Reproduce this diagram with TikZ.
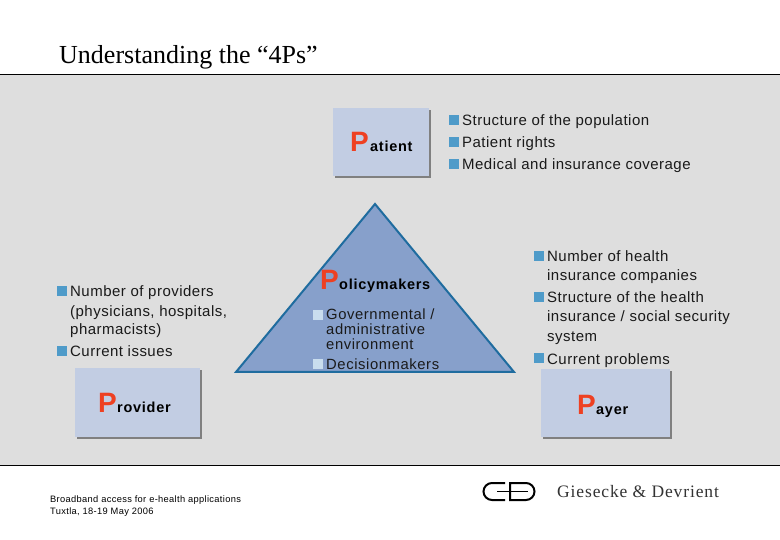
\documentclass[tikz,border=0pt]{standalone}
\usepackage{fontspec}
\setmainfont{Liberation Sans}
\newfontfamily\serifface{Liberation Serif}
\newfontfamily\bodyface[LetterSpace=3.2]{Liberation Sans}
\newfontfamily\triface[LetterSpace=4]{Liberation Sans}
\newfontfamily\labelface[LetterSpace=5,BoldFont={Liberation Sans Bold}]{Liberation Sans}
\newfontfamily\footface[LetterSpace=3.6]{Liberation Sans}
\newfontfamily\logoface[LetterSpace=5]{Liberation Serif}
\definecolor{panel}{HTML}{DEDEDE}
\definecolor{boxfill}{HTML}{C2CDE3}
\definecolor{boxshadow}{HTML}{808080}
\definecolor{redp}{HTML}{EE4022}
\definecolor{bulletblue}{HTML}{4F9BC9}
\definecolor{bulletpale}{HTML}{C9DDEE}
\definecolor{trifill}{HTML}{87A0CB}
\definecolor{triline}{HTML}{1F6C9F}
\definecolor{textgray}{HTML}{1A1A1A}
\tikzset{
  pbox/.style={fill=boxfill,draw=none,minimum height=68pt,inner sep=0pt,anchor=north west},
  pshadow/.style={fill=boxshadow,draw=none},
  plabel/.style={anchor=base west,inner sep=0pt,font=\labelface\fontsize{14.5}{16}\selectfont\bfseries},
  pletter/.style={anchor=base west,inner sep=0pt,text=redp,font=\fontsize{28}{30}\selectfont\bfseries},
  body/.style={anchor=base west,inner sep=0pt,text=textgray,font=\bodyface\fontsize{15}{17}\selectfont},
  bodytri/.style={anchor=base west,inner sep=0pt,text=textgray,font=\triface\fontsize{14.8}{17}\selectfont},
  bul/.style={fill=bulletblue,draw=none,minimum size=10pt,inner sep=0pt,anchor=north west},
  bulpale/.style={bul,fill=bulletpale},
  foot/.style={anchor=base west,inner sep=0pt,font=\footface\fontsize{9.3}{11}\selectfont},
  logoline/.style={black,line width=2pt},
}
\begin{document}
\begin{tikzpicture}[x=1pt,y=-1pt]
\useasboundingbox (0,0) rectangle (780,540);
\fill[white] (0,0) rectangle (780,540);
\fill[panel] (0,74) rectangle (780,465);
\draw[black,line width=1pt] (0,74.5) -- (780,74.5);
\draw[black,line width=1pt] (0,465) -- (780,465);
\node[anchor=base west,inner sep=0pt,font=\serifface\fontsize{26}{28}\selectfont] (title) at (59,64) {Understanding the “4Ps”};
% Patient
\fill[pshadow] (335,110) rectangle (431,178);
\node[pbox,minimum width=96pt] (patient) at (333,108) {};
\node[pletter] (pP) at (350,152) {P};
\node[plabel] (pt) at (370,152) {atient};
\node[bul] (b1) at (449,115) {};
\node[body] (t1) at (462,126) {Structure of the population};
\node[bul] (b2) at (449,137) {};
\node[body] (t2) at (462,148) {Patient rights};
\node[bul] (b3) at (449,159) {};
\node[body] (t3) at (462,170) {Medical and insurance coverage};
% Triangle
\draw[fill=trifill,draw=triline,line width=2pt,line join=miter] (375,204) -- (514,372) -- (236,372) -- cycle;
\node[pletter] (poP) at (320,290) {P};
\node[plabel] (pot) at (339,290) {olicymakers};
\node[bulpale] (b4) at (313,310) {};
\node[bodytri] (t4) at (326,320) {Governmental /};
\node[bodytri] (t5) at (326,335) {administrative};
\node[bodytri] (t6) at (326,350) {environment};
\node[bulpale] (b5) at (313,359) {};
\node[bodytri] (t7) at (326,370) {Decisionmakers};
% Provider
\node[bul] (b6) at (57,286) {};
\node[body] (t8) at (70,297) {Number of providers};
\node[body] (t9) at (70,317) {(physicians, hospitals,};
\node[body] (t10) at (70,335) {pharmacists)};
\node[bul] (b7) at (57,346) {};
\node[body] (t11) at (70,357) {Current issues};
\fill[pshadow] (77,370) rectangle (202,439);
\node[pbox,minimum width=125pt,minimum height=69pt] (provider) at (75,368) {};
\node[pletter] (prP) at (98,413) {P};
\node[plabel] (prt) at (117,413) {rovider};
% Payer
\node[bul] (b8) at (534,251) {};
\node[body] (t12) at (547,262) {Number of health};
\node[body] (t13) at (547,281) {insurance companies};
\node[bul] (b9) at (534,292) {};
\node[body] (t14) at (547,303) {Structure of the health};
\node[body] (t15) at (547,322) {insurance / social security};
\node[body] (t16) at (547,342) {system};
\node[bul] (b10) at (534,353) {};
\node[body] (t17) at (547,364) {Current problems};
\fill[pshadow] (543,371) rectangle (672,439);
\node[pbox,minimum width=129pt] (payer) at (541,369) {};
\node[pletter] (paP) at (577,414) {P};
\node[plabel] (pat) at (596,414) {ayer};
% Footer
\node[foot] (f1) at (50,502) {Broadband access for e-health applications};
\node[foot] (f2) at (50,514) {Tuxtla, 18-19 May 2006};
% Logo
\draw[logoline] (505,483) -- (492,483) arc[start angle=-90,end angle=-270,radius=8.5] -- (505,500);
\draw[logoline] (510,500) -- (510,483) -- (526,483) arc[start angle=-90,end angle=90,radius=8.5] -- cycle;
\draw[black,line width=1.6pt] (497,491.5) -- (528,491.5);
\node[anchor=base west,inner sep=0pt,font=\logoface\fontsize{17.5}{19}\selectfont,text=black!80] (logo) at (557,497) {Giesecke \& Devrient};
\end{tikzpicture}
\end{document}
